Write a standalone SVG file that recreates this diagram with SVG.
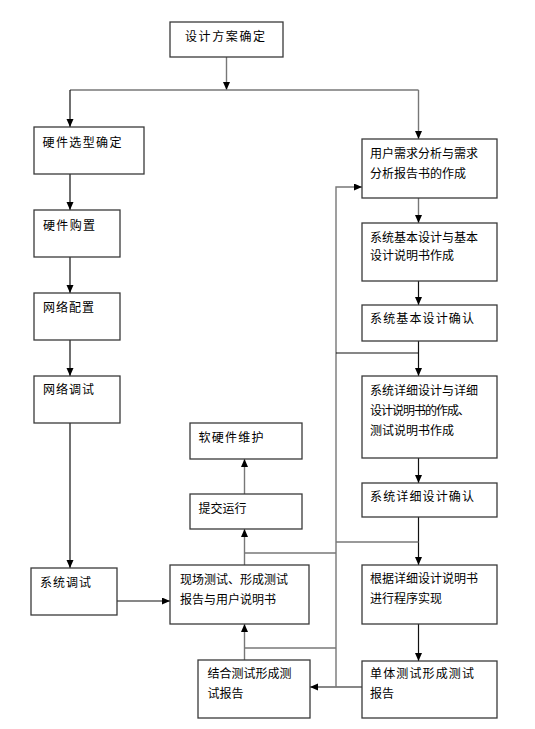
<svg xmlns="http://www.w3.org/2000/svg" width="535" height="729" viewBox="0 0 535 729">
<defs>
<marker id="ah" markerUnits="userSpaceOnUse" markerWidth="9" markerHeight="8" refX="8" refY="3.5" orient="auto">
<path d="M0,0 L8,3.5 L0,7 z" fill="#000"/>
</marker>
<style>
.box{fill:#fff;stroke:#3a3a3a;stroke-width:1.3}
.t{font-family:"Noto Sans CJK SC","Noto Sans CJK JP",sans-serif;font-size:12px;fill:#000}
.c{fill:none;stroke:#111;stroke-width:1.2}
.g{fill:none;stroke:#777;stroke-width:1.4}
.a{marker-end:url(#ah)}
</style>
</defs>
<rect width="535" height="729" fill="#fff"/>
<g id="connectors">
<path class="g a" d="M226.5,57 V90"/>
<path class="g" d="M70,90 H418.5"/>
<path class="c a" d="M70,90 V127"/>
<path class="g a" d="M418.5,90 V139"/>
<path class="c a" d="M70,174 V210"/>
<path class="c a" d="M70,257 V293"/>
<path class="c a" d="M70,340 V376"/>
<path class="c a" d="M70,423 V568"/>
<path class="c a" d="M117,601 H170"/>
<path class="g a" d="M418.5,198 V223"/>
<path class="c a" d="M418.5,281 V305"/>
<path class="c a" d="M418.5,341 V376"/>
<path class="c a" d="M418.5,458 V483"/>
<path class="c a" d="M418.5,517 V565"/>
<path class="c a" d="M418.5,624 V661"/>
<path class="c a" d="M362,687 H310"/>
<path class="g a" d="M336,687 V187 H362"/>
<path class="c" d="M336,353 H418.5"/>
<path class="g" d="M336,542 H418.5"/>
<path class="g" d="M244.5,553 H336"/>
<path class="g" d="M244.5,648 H336"/>
<path class="g a" d="M244.5,565 V529"/>
<path class="g a" d="M244.5,494 V459"/>
<path class="g a" d="M244.5,660 V624"/>
</g>
<g id="n1"><rect class="box" x="170" y="22" width="113" height="35"/><text class="t" x="185" y="40.5" textLength="80" lengthAdjust="spacing">设计方案确定</text></g>
<g id="n2"><rect class="box" x="34" y="127" width="110" height="47"/><text class="t" x="42.5" y="146.5" textLength="79" lengthAdjust="spacing">硬件选型确定</text></g>
<g id="n3"><rect class="box" x="34" y="210" width="86" height="47"/><text class="t" x="43" y="229.5" textLength="52" lengthAdjust="spacing">硬件购置</text></g>
<g id="n4"><rect class="box" x="34" y="293" width="86" height="47"/><text class="t" x="43" y="311.5" textLength="51" lengthAdjust="spacing">网络配置</text></g>
<g id="n5"><rect class="box" x="34" y="376" width="86" height="47"/><text class="t" x="43" y="394" textLength="51" lengthAdjust="spacing">网络调试</text></g>
<g id="n6"><rect class="box" x="31" y="568" width="86" height="47"/><text class="t" x="40" y="586.5" textLength="51" lengthAdjust="spacing">系统调试</text></g>
<g id="n7"><rect class="box" x="362" y="139" width="135" height="59"/><text class="t" x="370" y="158" textLength="108" lengthAdjust="spacing">用户需求分析与需求</text><text class="t" x="370" y="178">分析报告书的作成</text></g>
<g id="n8"><rect class="box" x="362" y="223" width="135" height="58"/><text class="t" x="370" y="241.5" textLength="108" lengthAdjust="spacing">系统基本设计与基本</text><text class="t" x="370" y="260">设计说明书作成</text></g>
<g id="n9"><rect class="box" x="362" y="305" width="135" height="36"/><text class="t" x="370" y="323" textLength="104" lengthAdjust="spacing">系统基本设计确认</text></g>
<g id="n10"><rect class="box" x="362" y="376" width="135" height="82"/><text class="t" x="370" y="395" textLength="108" lengthAdjust="spacing">系统详细设计与详细</text><text class="t" x="370" y="415" textLength="100" lengthAdjust="spacing">设计说明书的作成、</text><text class="t" x="370" y="435">测试说明书作成</text></g>
<g id="n11"><rect class="box" x="362" y="483" width="135" height="34"/><text class="t" x="370" y="500.5" textLength="104" lengthAdjust="spacing">系统详细设计确认</text></g>
<g id="n12"><rect class="box" x="362" y="565" width="135" height="59"/><text class="t" x="370" y="583">根据详细设计说明书</text><text class="t" x="370" y="603">进行程序实现</text></g>
<g id="n13"><rect class="box" x="362" y="661" width="135" height="57"/><text class="t" x="370" y="678" textLength="104" lengthAdjust="spacing">单体测试形成测试</text><text class="t" x="370" y="698">报告</text></g>
<g id="n14"><rect class="box" x="198" y="660" width="112" height="58"/><text class="t" x="207.5" y="678">结合测试形成测</text><text class="t" x="207.5" y="698">试报告</text></g>
<g id="n15"><rect class="box" x="170" y="565" width="139" height="59"/><text class="t" x="180" y="583.5">现场测试、形成测试</text><text class="t" x="180" y="603.5">报告与用户说明书</text></g>
<g id="n16"><rect class="box" x="190" y="494" width="112" height="35"/><text class="t" x="198.5" y="512.5">提交运行</text></g>
<g id="n17"><rect class="box" x="190" y="423" width="112" height="36"/><text class="t" x="198.5" y="441.5" textLength="65" lengthAdjust="spacing">软硬件维护</text></g>
</svg>
